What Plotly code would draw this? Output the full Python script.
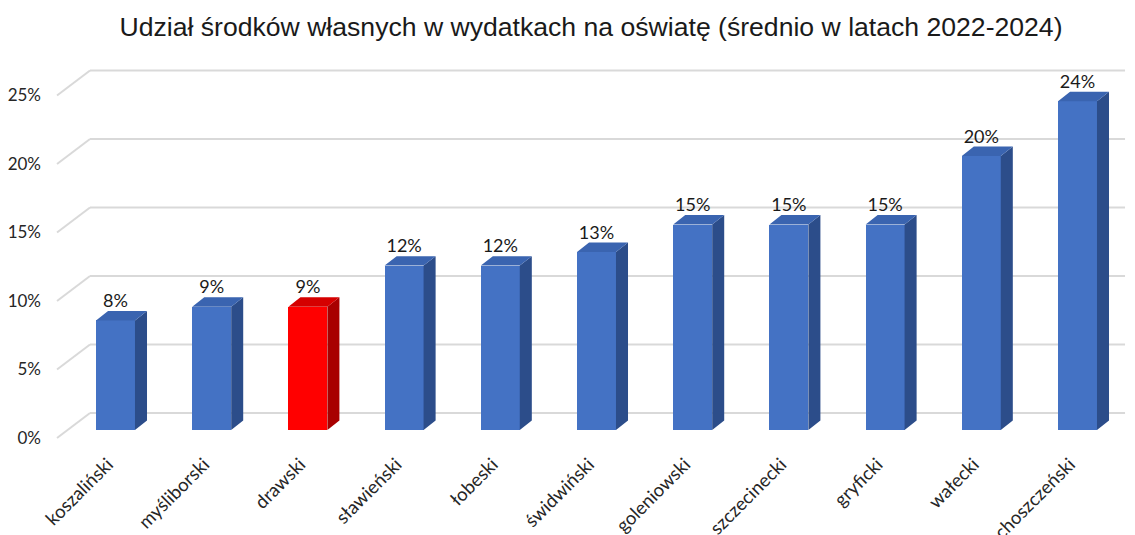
import plotly.graph_objects as go

# ---- data ----
categories = ["koszaliński", "myśliborski", "drawski", "sławieński", "łobeski",
              "świdwiński", "goleniowski", "szczecinecki", "gryficki", "wałecki",
              "choszczeński"]
values = [8, 9, 9, 12, 12, 13, 15, 15, 15, 20, 24]          # percent
highlight = ["drawski"]
y_ticks = [0, 5, 10, 15, 20, 25]
y_tick_labels = ["0%", "5%", "10%", "15%", "20%", "25%"]
title_text = "Udział środków własnych w wydatkach na oświatę (średnio w latach 2022-2024)"

# ---- style / pseudo-3D geometry (in axis units) ----
BAR_W = 0.405
DEPTH_X = 0.125
DEPTH_Y = 0.69
WALL_FRONT_X = -0.608
WALL_FRONT_DY = -0.58
WALL_BACK_X = -0.265
WALL_BACK_DY = 1.24
GRID_RIGHT_X = 10.494
LABEL_DY = 1.3
TICK_SHIFT = -0.08

BLUE = dict(front="#4472C4", top="#3A64B0", side="#2C4D8A")
RED = dict(front="#FF0000", top="#D50000", side="#A80000")

# page body has an 8px margin; figure is sized/positioned to compensate
W, H, OFF = 1127, 527, 8

xs = list(range(len(categories)))
colors = [RED if c in highlight else BLUE for c in categories]

fig = go.Figure()

# back-wall gridlines (drawn below traces)
for t in y_ticks:
    fig.add_shape(type="line", x0=WALL_FRONT_X, y0=t + WALL_FRONT_DY,
                  x1=WALL_BACK_X, y1=t + WALL_BACK_DY, xref="x", yref="y",
                  line=dict(color="#D9D9D9", width=2), layer="below")
    fig.add_shape(type="line", x0=WALL_BACK_X, y0=t + WALL_BACK_DY,
                  x1=GRID_RIGHT_X, y1=t + WALL_BACK_DY, xref="x", yref="y",
                  line=dict(color="#D9D9D9", width=2), layer="below")

# front faces
fig.add_trace(go.Bar(x=xs, y=values, width=BAR_W,
                     marker=dict(color=[c["front"] for c in colors], line=dict(width=0)),
                     hoverinfo="skip", showlegend=False))

# side and top faces
for scheme in (BLUE, RED):
    sx, sy, tx, ty = [], [], [], []
    for x, v, c in zip(xs, values, colors):
        if c is not scheme:
            continue
        r = x + BAR_W / 2
        l = x - BAR_W / 2
        sx += [r, r, r + DEPTH_X, r + DEPTH_X, r, None]
        sy += [0, v, v + DEPTH_Y, DEPTH_Y, 0, None]
        tx += [l, r, r + DEPTH_X, l + DEPTH_X, l, None]
        ty += [v, v, v + DEPTH_Y, v + DEPTH_Y, v, None]
    if not sx:
        continue
    fig.add_trace(go.Scatter(x=sx, y=sy, mode="lines", fill="toself",
                             fillcolor=scheme["side"], line=dict(width=0, color=scheme["side"]),
                             hoverinfo="skip", showlegend=False))
    fig.add_trace(go.Scatter(x=tx, y=ty, mode="lines", fill="toself",
                             fillcolor=scheme["top"], line=dict(width=0, color=scheme["top"]),
                             hoverinfo="skip", showlegend=False))

# value labels
fig.add_trace(go.Scatter(x=xs, y=[v + LABEL_DY for v in values], mode="text",
                         text=[f"{v}%" for v in values], textposition="middle center",
                         textfont=dict(family="Lato", size=18, color="#1a1a1a"),
                         hoverinfo="skip", showlegend=False, cliponaxis=False))

fig.update_layout(
    width=W, height=H,
    margin=dict(l=50 - OFF, r=5, t=50 - OFF, b=H - (445 - OFF), autoexpand=False),
    paper_bgcolor="white", plot_bgcolor="white",
    title=dict(text=title_text, x=(591 - OFF) / W, xanchor="center", y=1 - (27 - OFF) / H,
               yanchor="middle", yref="container",
               font=dict(family="Liberation Sans", size=26.6, color="#1a1a1a")),
    bargap=0,
    xaxis=dict(range=[-0.6809, 10.5457], tickvals=[x + TICK_SHIFT for x in xs],
               ticktext=categories,
               tickangle=-45, showgrid=False, zeroline=False, showline=False,
               ticks="", tickfont=dict(family="Lato", size=18.5, color="#262626"),
               ticklabelstandoff=4, automargin=False, fixedrange=True),
    yaxis=dict(range=[-1.095, 27.737],
               tickvals=[t + WALL_FRONT_DY for t in y_ticks], ticktext=y_tick_labels,
               showgrid=False, zeroline=False, showline=False, ticks="",
               tickfont=dict(family="Lato", size=17, color="#262626"),
               ticklabelstandoff=8, automargin=False, fixedrange=True),
)

fig.write_html("out.html")
